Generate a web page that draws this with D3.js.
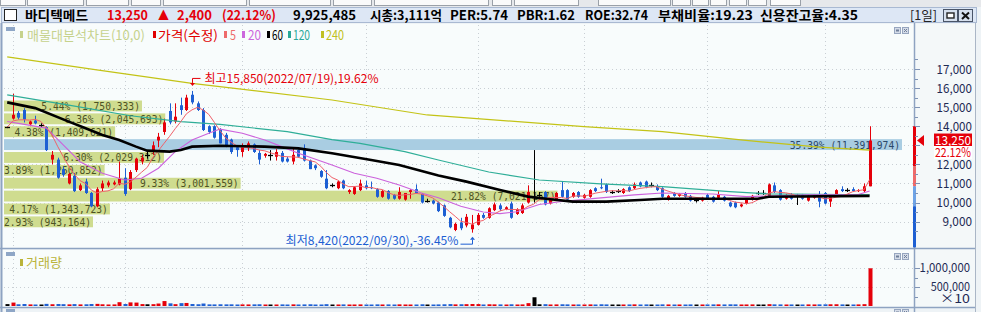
<!DOCTYPE html>
<html>
<head>
<meta charset="utf-8">
<script src="https://cdn.jsdelivr.net/npm/d3@7"></script>
<style>
  body { margin: 0; background: #ffffff; overflow: hidden; }
  svg { display: block; }
  text { font-family: "Noto Sans CJK KR", "Noto Sans", sans-serif; }
  .mono { font-family: "DejaVu Sans Mono", monospace; }
</style>
</head>
<body>
<svg width="981" height="312"></svg>
<script>
// daily candles 2022/05/31 ~ 2023/01/12
var opens = [
  13950,14400,14700,14850,14100,14300,14050,13950,12250,12250,
  11750,11000,11400,10650,11100,10500,9800,10750,10900,10950,
  10950,11300,10700,11700,12150,12500,12750,13250,13700,14800,
  14250,15100,14850,15650,15200,14850,14000,14000,13800,13550,
  13300,12900,12650,12850,13050,12600,12450,12500,12400,12600,
  12300,12150,12750,12850,12200,11950,11650,11250,10900,10750,
  11150,10550,10450,10650,10900,10800,10700,10300,10600,10400,
  10200,10150,10550,10700,10450,10100,10100,10000,9850,9200,
  8560,8950,8800,8600,8830,9350,9200,9600,9850,9650,
  9950,9400,9450,10000,10300,10400,10550,9950,10150,10650,
  10650,10300,10550,10250,10300,10750,10800,10950,10550,10600,
  10500,10800,10750,11050,11100,10900,10850,10750,10150,10500,
  10350,10500,10350,10130,10100,10400,10300,10250,10300,10000,
  10000,9800,9950,10150,10500,10500,10300,10900,10650,10200,
  10400,10400,10400,10100,10250,10450,10500,10050,10350,10700,
  10650,10700,10600,10600,10850
];
var highs = [
  14000,15700,14800,14950,14300,14550,14150,14000,12700,12350,
  11900,11550,11550,11000,11250,10550,10800,11150,11150,11150,
  12150,11800,11700,12350,12500,12700,13200,13650,14400,15200,
  15200,15500,15650,15850,15300,14950,14050,14050,13900,13650,
  13350,13000,13100,13200,13100,12750,12600,12750,12800,12700,
  12400,12900,12800,13050,12250,12000,11700,11700,11000,11150,
  11200,10700,10850,11200,11150,11100,10750,10650,10650,10450,
  10800,10500,10700,10950,10500,10200,10150,10050,9900,9250,
  8950,9200,9400,9350,9450,9450,9750,10000,9950,9800,
  10050,9700,9950,10900,12750,10550,10600,10250,10550,11100,
  10700,10550,10600,10450,10700,10800,11250,11000,10650,10700,
  10750,10850,11050,11100,11150,11050,10950,10800,10400,10550,
  10500,10550,10400,10200,10300,10450,10350,10600,10350,10050,
  10050,9950,10200,10400,10600,10650,11000,11050,10700,10450,
  10500,10450,10450,10400,10450,10600,10550,10400,10700,10850,
  10750,10800,10700,11000,14000
];
var lows = [
  13900,14350,14350,14200,14000,14100,13950,12700,12000,11250,
  11350,10950,10550,10600,10450,9750,9750,10600,10800,10900,
  10900,10350,10650,11600,12000,12300,12500,12900,13550,14100,
  14150,14600,14800,15150,14800,13750,13600,13350,13100,12900,
  12550,12400,12400,12700,12600,12000,12350,12200,12200,12100,
  12100,12000,12350,12150,11750,11700,11300,10700,10800,10700,
  10700,10450,10400,10600,10700,10700,10250,10250,10150,10150,
  10150,10100,10200,10450,9950,10000,9900,9500,9250,8650,
  8500,8550,8700,8420,8800,9150,9150,9550,9550,9600,
  9150,9350,9400,9950,10000,10300,9850,9900,10100,10250,
  10100,10250,10250,10200,10250,10550,10700,10500,10450,10500,
  10450,10550,10700,10800,10750,10800,10600,10250,10100,10300,
  10300,10250,10050,10000,10050,10150,10000,10200,10050,9750,
  9700,9750,9900,10100,10400,10400,10250,10500,10100,10150,
  10150,9870,10150,10050,10200,9750,9900,9770,10300,10550,
  10550,10550,10550,10550,10850
];
var closes = [
  13950,14600,14450,14350,14250,14150,14050,12750,12500,11300,
  11450,11500,10600,10900,10500,9800,10700,11000,11050,11050,
  11250,10450,11600,12300,12350,12500,13000,13450,14200,14200,
  14500,14850,15500,15250,14850,13800,13700,13400,13100,12950,
  12650,12750,13000,13100,12650,12250,12550,12500,12650,12150,
  12150,12500,12400,12200,11750,11800,11350,10750,10900,11100,
  10750,10650,10800,11000,10750,10750,10300,10600,10200,10200,
  10550,10500,10650,10500,10000,10100,9950,9550,9300,8700,
  8880,8650,9250,8850,9350,9200,9700,9900,9650,9750,
  9200,9650,9850,10550,10300,10400,9900,10200,10500,10300,
  10150,10500,10300,10400,10650,10600,10750,10550,10550,10600,
  10700,10600,10950,10850,10800,10900,10650,10300,10350,10350,
  10450,10300,10100,10130,10250,10200,10050,10400,10100,9800,
  9750,9900,10150,10350,10500,10500,10950,10550,10150,10400,
  10200,10400,10200,10350,10400,10050,9950,10350,10650,10600,
  10650,10600,10650,10850,13250
];
var volumes = [
  500000,900000,450000,520000,420000,400000,380000,560000,460000,520000,
  480000,430000,500000,420000,450000,520000,560000,450000,400000,420000,
  1000000,520000,950000,900000,500000,450000,480000,650000,1300000,700000,
  480000,750000,800000,520000,460000,650000,430000,420000,450000,430000,
  440000,400000,420000,410000,430000,450000,380000,370000,400000,420000,
  380000,430000,400000,420000,450000,380000,400000,480000,360000,400000,
  420000,380000,400000,420000,390000,380000,430000,400000,420000,370000,
  430000,400000,380000,400000,450000,360000,380000,420000,450000,500000,
  430000,460000,480000,520000,500000,400000,450000,430000,420000,380000,
  450000,400000,420000,750000,2300000,450000,480000,400000,420000,450000,
  430000,400000,410000,380000,420000,400000,450000,420000,370000,360000,
  400000,410000,430000,400000,420000,360000,390000,430000,410000,380000,
  400000,390000,420000,360000,400000,410000,420000,430000,410000,440000,
  430000,400000,410000,420000,370000,360000,480000,430000,420000,400000,
  410000,380000,400000,420000,410000,430000,440000,450000,460000,420000,
  380000,400000,420000,480000,9925485
];

// moving averages (candle index, price)
var ma20Idx = [0,2,7,10,13,17,21,24,27,30,33,36,38,42,46,49,52,58,62,66,70,74,77,81,85,88,91,95,99,105,112,117,126,132,143,152,154];
var ma20Val = [14250,14150,13900,13020,12140,11530,11180,11270,11800,12670,13280,13630,13850,13630,13280,12930,12580,11970,11530,11270,10920,10500,10250,9800,9500,9420,9520,9900,10050,10220,10400,10500,10450,10310,10400,10420,10600];
var ma60Idx = [0,5,11,14,17,20,23,25,29,31,33,38,46,52,58,65,70,74,77,82,88,93,97,101,107,113,117,134,136,154];
var ma60Val = [15250,14950,14240,13890,13540,13280,12930,12720,12670,12755,12930,12980,12930,12840,12580,12230,11970,11655,11420,11095,10660,10310,10170,10045,10045,10135,10200,10200,10300,10350];
var ma120Idx = [0,11,22,31,38,50,58,63,71,77,86,95,106,117,129,136,154];
var ma120Val = [15640,15110,14550,14240,14100,13715,13300,13100,12665,12230,11600,11180,10980,10830,10570,10450,10400];
var ma240Idx = [0,16,33,58,75,103,117,131,145,154];
var ma240Val = [17640,16950,16250,15375,14590,13980,13715,13280,12900,12750];

// volume profile (매물대), top band first
var bandVolumes = [1750333,2045693,1409621,11391974,2029312,1250852,3001559,7021157,1343723,943164];
var bandPercents = ["5.44","6.36","4.38","35.39","6.30","3.89","9.33","21.82","4.17","2.93"];
var profileHigh = 15400, profileLow = 8650;

// 13,000 sits under the current-price box, so it is not printed
var priceTicks = [17000,16000,15000,14000,12000,11000,10000,9000];
var priceGrid = [17000,16000,15000,14000,13000,12000,11000,10000,9000];
var volumeTicks = [10000000, 5000000];
var monthStarts = [1,21,42,64,84,103,125,146];
var highIdx = 33, lowIdx = 83;

var RED = '#e5000a', BLUE = '#1d5fd3', GRID = '#c9cfd4', FRAME = '#8ea3c1';
var CHAR = 5.8;   // width of one label glyph

var svg = d3.select('svg');
var W = 981, H = 312;

var x = d3.scaleLinear().domain([0, closes.length - 1]).range([7.2, 869.6]);
var y = d3.scaleLinear().domain([9000, 17000]).range([221.6, 69]);
var yv = d3.scaleLinear().domain([0, 1e7]).range([306, 268]);

function candleColor(i) {
  if (closes[i] > opens[i]) return RED;
  if (closes[i] < opens[i]) return BLUE;
  return '#000';
}
var crisp = v => Math.round(v) + 0.5;

// ---------- frame ----------
svg.append('rect').attr('width', W).attr('height', H).attr('fill', '#eef3f6');
svg.append('rect').attr('width', W).attr('height', 7).attr('fill', '#e6e8eb');
[[0,25],[27,83],[86,128],[131,160],[163,246],[249,330],[333,371],[374,488],[492,511],[514,578],[598,670],[672,690],[692,708],[710,726],[729,746],[748,766],[770,800]]
  .forEach(b => {
    svg.append('rect').attr('x', b[0] + 0.5).attr('y', -1).attr('width', b[1] - b[0]).attr('height', 6.5)
      .attr('fill', '#fafafa').attr('stroke', '#9aa0a8');
  });

// title bar
svg.append('rect').attr('x', 1.5).attr('y', 7.5).attr('width', 975).attr('height', 15)
  .attr('fill', '#dde7f5').attr('stroke', '#a9b9d2');
svg.append('rect').attr('x', 4.5).attr('y', 9.5).attr('width', 12).attr('height', 11)
  .attr('fill', '#fff').attr('stroke', '#222');

var titleParts = [
  ['바디텍메드', 25, 63, '#000'],
  ['13,250', 107, 41, RED],
  ['▲', 158, 11, RED],
  ['2,400', 177, 35, RED],
  ['(22.12%)', 222, 54, RED],
  ['9,925,485', 293, 63, '#000'],
  ['시총:3,111억', 370, 72, '#000'],
  ['PER:5.74', 450, 58, '#000'],
  ['PBR:1.62', 517, 58, '#000'],
  ['ROE:32.74', 585, 63, '#000'],
  ['부채비율:19.23', 658, 95, '#000'],
  ['신용잔고율:4.35', 760, 98, '#000']
];
svg.append('g').selectAll('text').data(titleParts).join('text')
  .attr('x', d => d[1]).attr('y', 20)
  .attr('textLength', d => d[2]).attr('lengthAdjust', 'spacingAndGlyphs')
  .attr('font-size', 13).attr('font-weight', 700).attr('fill', d => d[3])
  .text(d => d[0]);
svg.append('text').attr('x', 910).attr('y', 20).attr('font-size', 13)
  .attr('textLength', 27).attr('lengthAdjust', 'spacingAndGlyphs').attr('fill', '#222').text('[1일]');
// title buttons
svg.append('rect').attr('x', 943.5).attr('y', 9.5).attr('width', 14).attr('height', 12).attr('fill', '#d6e0ee').attr('stroke', '#4a5568');
svg.append('rect').attr('x', 947).attr('y', 13).attr('width', 7).attr('height', 5).attr('fill', '#fff').attr('stroke', '#222').attr('stroke-width', 1.4);
svg.append('rect').attr('x', 958.5).attr('y', 9.5).attr('width', 14).attr('height', 12).attr('fill', '#d6e0ee').attr('stroke', '#4a5568');
svg.append('path').attr('d', 'M962,12.5L969,19M969,12.5L962,19').attr('stroke', '#111').attr('stroke-width', 2);

// plot backgrounds
svg.append('rect').attr('x', 2).attr('y', 24).attr('width', 912).attr('height', 224).attr('fill', '#f8fcfc');
svg.append('rect').attr('x', 2).attr('y', 250).attr('width', 912).attr('height', 57).attr('fill', '#f8fcfc');
svg.append('rect').attr('x', 915).attr('y', 24).attr('width', 60).attr('height', 284).attr('fill', '#f4f8f9');

svg.append('defs').append('clipPath').attr('id', 'plotclip')
  .append('rect').attr('x', 2).attr('y', 24).attr('width', 912).attr('height', 224);

// ---------- grid ----------
var grid = svg.append('g').attr('stroke', GRID).attr('stroke-dasharray', '1,3');
grid.selectAll('line.h').data(priceGrid).join('line').attr('class', 'h')
  .attr('x1', 4).attr('x2', 913).attr('y1', d => crisp(y(d))).attr('y2', d => crisp(y(d)));
grid.selectAll('line.v').data(monthStarts).join('line').attr('class', 'v')
  .attr('x1', d => crisp(x(d))).attr('x2', d => crisp(x(d))).attr('y1', 25).attr('y2', 247);
grid.selectAll('line.vh').data(volumeTicks).join('line').attr('class', 'vh')
  .attr('x1', 4).attr('x2', 913).attr('y1', d => crisp(yv(d))).attr('y2', d => crisp(yv(d)));
grid.selectAll('line.vv').data(monthStarts).join('line').attr('class', 'vv')
  .attr('x1', d => crisp(x(d))).attr('x2', d => crisp(x(d))).attr('y1', 251).attr('y2', 306);

// ---------- volume profile ----------
var main = svg.append('g').attr('clip-path', 'url(#plotclip)');
var bandStep = (profileHigh - profileLow) / bandVolumes.length;
var maxBand = d3.max(bandVolumes);
var bw = d3.scaleLinear().domain([0, maxBand]).range([4, 902]);
var bands = bandVolumes.map((v, k) => {
  var label = bandPercents[k] + '% (' + d3.format(',')(v) + ')';
  return {
    v: v, label: label,
    end: Math.max(bw(v), 4 + label.length * CHAR + 2),
    top: profileHigh - k * bandStep, bottom: profileHigh - (k + 1) * bandStep,
    max: v === maxBand
  };
});
main.append('g').selectAll('rect').data(bands).join('rect')
  .attr('x', 4).attr('width', d => d.end - 4)
  .attr('y', d => y(d.top) + 1).attr('height', d => y(d.bottom) - y(d.top) - 2)
  .attr('fill', d => d.max ? '#a9cde2' : '#cfdc8f');
main.append('g').selectAll('text').data(bands).join('text')
  .attr('class', 'mono')
  .attr('x', d => d.end - 2 - d.label.length * CHAR)
  .attr('y', d => (y(d.top) + y(d.bottom)) / 2 + 4)
  .attr('font-size', 10.5)
  .attr('textLength', d => d.label.length * CHAR).attr('lengthAdjust', 'spacingAndGlyphs')
  .attr('fill', d => d.max ? '#2b4868' : '#4d5224')
  .text(d => d.label);

// ---------- candles ----------
var idx = d3.range(closes.length);
var cg = main.append('g');
cg.selectAll('line.wick').data(idx).join('line').attr('class', 'wick')
  .attr('x1', i => crisp(x(i))).attr('x2', i => crisp(x(i)))
  .attr('y1', i => y(highs[i])).attr('y2', i => y(lows[i]))
  .attr('stroke', candleColor).attr('stroke-width', 1);
cg.selectAll('rect').data(idx.filter(i => opens[i] !== closes[i])).join('rect')
  .attr('x', i => Math.round(x(i)) - 1).attr('width', 3)
  .attr('y', i => y(Math.max(opens[i], closes[i])))
  .attr('height', i => Math.max(1, Math.abs(y(opens[i]) - y(closes[i]))))
  .attr('fill', candleColor);
cg.selectAll('line.doji').data(idx.filter(i => opens[i] === closes[i])).join('line').attr('class', 'doji')
  .attr('x1', i => Math.round(x(i)) - 2).attr('x2', i => Math.round(x(i)) + 3)
  .attr('y1', i => crisp(y(closes[i]))).attr('y2', i => crisp(y(closes[i])))
  .attr('stroke', '#000').attr('stroke-width', 1.3);

// ---------- moving averages ----------
var ma5 = closes.map((c, i) => d3.mean(closes.slice(Math.max(0, i - 4), i + 1)));
var line = d3.line().x(d => x(d[0])).y(d => y(d[1]));
var maLines = [
  [d3.zip(ma240Idx, ma240Val), '#c3c316', 1.2],
  [d3.zip(ma120Idx, ma120Val), '#2fae98', 1.2],
  [d3.zip(ma20Idx, ma20Val), '#cc62dc', 1.1],
  [ma5.map((v, i) => [i, v]), '#f0606a', 1],
  [d3.zip(ma60Idx, ma60Val), '#000', 2.6]
];
main.append('g').selectAll('path').data(maLines).join('path')
  .attr('d', d => line(d[0])).attr('fill', 'none')
  .attr('stroke', d => d[1]).attr('stroke-width', d => d[2]);

// ---------- high / low notes ----------
var hx = crisp(x(highIdx)), hy = y(highs[highIdx]);
svg.append('path').attr('d', `M${hx + 8},${hy - 12.5}H${hx}V${hy - 8}`).attr('fill', 'none').attr('stroke', RED);
svg.append('path').attr('d', `M${hx - 2.5},${hy - 8}L${hx + 2.5},${hy - 8}L${hx},${hy - 5}Z`).attr('fill', RED);
svg.append('text').attr('x', hx + 12).attr('y', hy - 7.5).attr('font-size', 12)
  .attr('textLength', 174).attr('lengthAdjust', 'spacingAndGlyphs').attr('fill', RED)
  .text('최고' + d3.format(',')(highs[highIdx]) + '(2022/07/19),' + (((highs[highIdx] / closes[closes.length - 1]) - 1) * 100).toFixed(2) + '%');

var lx = crisp(x(lowIdx)), ly = y(lows[lowIdx]);
svg.append('path').attr('d', `M${lx - 12},${ly + 11.5}H${lx}V${ly + 7}`).attr('fill', 'none').attr('stroke', BLUE);
svg.append('path').attr('d', `M${lx - 2.5},${ly + 7}L${lx + 2.5},${ly + 7}L${lx},${ly + 4}Z`).attr('fill', BLUE);
svg.append('text').attr('x', lx - 187).attr('y', ly + 12.5).attr('font-size', 12)
  .attr('textLength', 173).attr('lengthAdjust', 'spacingAndGlyphs').attr('fill', BLUE)
  .text('최저' + d3.format(',')(lows[lowIdx]) + '(2022/09/30),' + (((lows[lowIdx] / closes[closes.length - 1]) - 1) * 100).toFixed(2) + '%');

// ---------- volume ----------
svg.append('g').selectAll('rect').data(idx).join('rect')
  .attr('x', i => Math.round(x(i)) - 1.5).attr('width', 4)
  .attr('y', i => Math.min(yv(volumes[i]), yv(0) - 1.5))
  .attr('height', i => Math.max(1.5, yv(0) - yv(volumes[i])))
  .attr('fill', candleColor);

// ---------- legends ----------
svg.append('rect').attr('x', 6).attr('y', 27).attr('width', 9).attr('height', 4).attr('fill', '#8ea6c6');
var legend = [
  ['매물대분석차트(10,0)', 20, 27, 118, '#c6d28c'],
  ['가격(수정)', 153, 158, 60, '#e00000'],
  ['5', 224, 230, 6, '#ee6b6b'],
  ['20', 242, 248, 13, '#cc66dd'],
  ['60', 267, 272, 11, '#000'],
  ['120', 288, 293, 17, '#2aa898'],
  ['240', 321, 326, 18, '#c0c020']
];
var lg = svg.append('g');
lg.selectAll('rect').data(legend).join('rect')
  .attr('x', d => d[1]).attr('y', 31).attr('width', 3).attr('height', 7).attr('fill', d => d[4]);
lg.selectAll('text').data(legend).join('text')
  .attr('x', d => d[2]).attr('y', 39.5).attr('font-size', 13)
  .attr('textLength', d => d[3]).attr('lengthAdjust', 'spacingAndGlyphs')
  .attr('fill', d => d[4]).text(d => d[0]);

svg.append('rect').attr('x', 6).attr('y', 252).attr('width', 9).attr('height', 4).attr('fill', '#8ea6c6');
svg.append('rect').attr('x', 20).attr('y', 259).attr('width', 3).attr('height', 7).attr('fill', '#b9b33a');
svg.append('text').attr('x', 26).attr('y', 267).attr('font-size', 13)
  .attr('textLength', 36).attr('lengthAdjust', 'spacingAndGlyphs').attr('fill', '#b9b33a').text('거래량');

function smallButtons(top) {
  svg.append('rect').attr('x', 894.5).attr('y', top + 0.5).attr('width', 6).attr('height', 6).attr('fill', '#d5dce8').attr('stroke', '#97a6bf');
  svg.append('rect').attr('x', 896).attr('y', top + 2.5).attr('width', 3).attr('height', 2).attr('fill', '#6f7f99');
  svg.append('rect').attr('x', 902.5).attr('y', top + 0.5).attr('width', 6).attr('height', 6).attr('fill', '#d5dce8').attr('stroke', '#97a6bf');
  svg.append('path').attr('d', `M904,${top + 2}L907,${top + 5}M907,${top + 2}L904,${top + 5}`).attr('stroke', '#6f7f99');
}
smallButtons(27);
smallButtons(253);
smallButtons(309);

// ---------- separators ----------
svg.append('line').attr('x1', 1.5).attr('x2', 1.5).attr('y1', 23).attr('y2', H).attr('stroke', FRAME).attr('stroke-width', 2);
svg.append('line').attr('x1', 0).attr('x2', 976).attr('y1', 248.5).attr('y2', 248.5).attr('stroke', FRAME).attr('stroke-width', 1.5);
svg.append('line').attr('x1', 0).attr('x2', 976).attr('y1', 307.5).attr('y2', 307.5).attr('stroke', FRAME).attr('stroke-width', 1.5);
svg.append('rect').attr('x', 6).attr('y', 309).attr('width', 9).attr('height', 4).attr('fill', '#8ea6c6');
svg.append('line').attr('x1', 914.5).attr('x2', 914.5).attr('y1', 23).attr('y2', H).attr('stroke', FRAME).attr('stroke-width', 1.5);
svg.append('line').attr('x1', 975.5).attr('x2', 975.5).attr('y1', 23).attr('y2', H).attr('stroke', '#aab6c6').attr('stroke-width', 1);

// ---------- price axis ----------
var axisBarStops = [14000, 11900, 10850, 9800, 7650];
var axisBarColors = ['#e5000a', '#ee6a6a', '#6ea3e6', '#1d5fd3'];
svg.append('g').selectAll('rect').data(axisBarColors).join('rect')
  .attr('x', 913).attr('width', 3)
  .attr('y', (c, k) => y(axisBarStops[k])).attr('height', (c, k) => y(axisBarStops[k + 1]) - y(axisBarStops[k]))
  .attr('fill', c => c);
svg.append('g').selectAll('line').data(d3.range(8500, 17600, 500)).join('line')
  .attr('x1', 915).attr('x2', d => d % 1000 === 0 ? 920 : 918)
  .attr('y1', d => crisp(y(d))).attr('y2', d => crisp(y(d)))
  .attr('stroke', '#7f93b5');
svg.append('g').selectAll('text').data(priceTicks).join('text')
  .attr('x', d => 972 - d3.format(',')(d).length * 5.9).attr('y', d => y(d) + 4.5)
  .attr('font-family', 'DejaVu Sans').attr('font-size', 12.5)
  .attr('textLength', d => d3.format(',')(d).length * 5.9).attr('lengthAdjust', 'spacingAndGlyphs')
  .attr('fill', '#1f2b55').text(d => d3.format(',')(d));

var last = closes.length - 1;
var lastY = y(closes[last]);
svg.append('path').attr('d', `M917,${lastY}L924,${lastY - 5.5}L924,${lastY + 5.5}Z`).attr('fill', RED);
svg.append('rect').attr('x', 934).attr('y', lastY - 7).attr('width', 38).attr('height', 12.5).attr('fill', RED);
svg.append('text').attr('x', 935).attr('y', lastY + 4).attr('font-family', 'DejaVu Sans').attr('font-size', 12.5)
  .attr('textLength', 36).attr('lengthAdjust', 'spacingAndGlyphs').attr('fill', '#fff')
  .text(d3.format(',')(closes[last]));
svg.append('rect').attr('x', 934).attr('y', lastY + 5.5).attr('width', 38).attr('height', 13).attr('fill', '#fff');
svg.append('text').attr('x', 935).attr('y', lastY + 16).attr('font-family', 'DejaVu Sans').attr('font-size', 12.5)
  .attr('textLength', 36).attr('lengthAdjust', 'spacingAndGlyphs').attr('fill', RED)
  .text(((closes[last] / closes[last - 1] - 1) * 100).toFixed(2) + '%');

// ---------- volume axis ----------
svg.append('g').selectAll('line').data(d3.range(2500000, 10000001, 2500000)).join('line')
  .attr('x1', 915).attr('x2', d => d % 5000000 === 0 ? 920 : 918)
  .attr('y1', d => crisp(yv(d))).attr('y2', d => crisp(yv(d))).attr('stroke', '#7f93b5');
svg.append('g').selectAll('text').data(volumeTicks).join('text')
  .attr('x', d => 970 - d3.format(',')(d / 10).length * 5.6).attr('y', d => yv(d) + 4)
  .attr('font-family', 'DejaVu Sans').attr('font-size', 12)
  .attr('textLength', d => d3.format(',')(d / 10).length * 5.6).attr('lengthAdjust', 'spacingAndGlyphs')
  .attr('fill', '#1f2b55').text(d => d3.format(',')(d / 10));
svg.append('text').attr('x', 940).attr('y', 303).attr('font-family', 'DejaVu Sans').attr('font-size', 12)
  .attr('textLength', 30).attr('lengthAdjust', 'spacingAndGlyphs').attr('fill', '#1f2b55').text('×10');
</script>
</body>
</html>
